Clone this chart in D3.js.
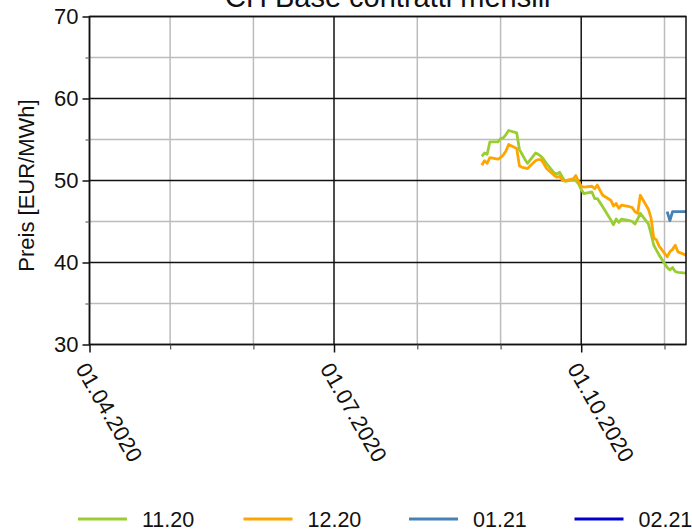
<!DOCTYPE html>
<html>
<head>
<meta charset="utf-8">
<script src="https://cdn.jsdelivr.net/npm/d3@7"></script>
<style>
  body { margin: 0; background: #fff; }
  svg { font-family: "Liberation Sans", Arial, sans-serif; }
</style>
</head>
<body>
<svg id="chart" width="692" height="530"></svg>
<script>
// trading days with quotes
const tradeDays = [
  "2020-08-25", "2020-08-26", "2020-08-27", "2020-08-28",
  "2020-08-31", "2020-09-01", "2020-09-02", "2020-09-03", "2020-09-04",
  "2020-09-07", "2020-09-08", "2020-09-09", "2020-09-10", "2020-09-11",
  "2020-09-14", "2020-09-15", "2020-09-16", "2020-09-17", "2020-09-18",
  "2020-09-21", "2020-09-22", "2020-09-23", "2020-09-24", "2020-09-25",
  "2020-09-28", "2020-09-29", "2020-09-30", "2020-10-01", "2020-10-02",
  "2020-10-05", "2020-10-06", "2020-10-07", "2020-10-08", "2020-10-09",
  "2020-10-12", "2020-10-13", "2020-10-14", "2020-10-15", "2020-10-16",
  "2020-10-19", "2020-10-20", "2020-10-21", "2020-10-22", "2020-10-23",
  "2020-10-26", "2020-10-27", "2020-10-28", "2020-10-29", "2020-10-30",
  "2020-11-02", "2020-11-03", "2020-11-04", "2020-11-05", "2020-11-06",
  "2020-11-09"
];

const nov20 = [
  52.95, 53.35, 53.2, 54.7,
  54.7, 55.1, 55.2, 55.6, 56.1,
  55.8, 53.8, 53.2, 52.6, 52.1,
  53.35, 53.2, 52.95, 52.6, 52.1,
  50.9, 50.8, 51.0, 50.4, 49.9,
  50.1, 50.0, 49.6, 48.9, 48.4,
  48.6, 47.8, 47.8, 47.3, 46.8,
  45.2, 44.6, 45.3, 44.9, 45.3,
  45.1, 45.0, 44.7, 45.3, 46.0,
  44.7, 43.5, 42.1, 41.5, 40.9,
  39.4, 39.1, 39.4, 38.9, 38.8,
  38.7
];

const dec20 = [
  51.85, 52.4, 52.1, 52.8,
  52.6, 52.8, 53.1, 53.6, 54.4,
  53.9, 51.8, 51.6, 51.55, 51.45,
  52.4, 52.55, 52.55, 52.1, 51.5,
  50.6, 50.4, 50.5, 50.0, 50.0,
  50.2, 50.6, 49.9, 49.3, 49.2,
  49.3, 49.0, 49.45, 48.8, 48.2,
  47.6, 46.9, 47.2, 46.6, 47.0,
  46.8, 46.7, 46.2, 46.0, 48.2,
  46.5, 45.4, 43.0, 42.75, 42.0,
  40.7, 41.3, 41.6, 42.1, 41.3,
  40.9
];

const jan21Days = ["2020-11-02", "2020-11-03", "2020-11-04", "2020-11-05", "2020-11-06", "2020-11-09"];
const jan21 = [46.2, 45.1, 46.2, 46.2, 46.2, 46.2];

const feb21Days = [];
const feb21 = [];

const seriesNames = ["11.20", "12.20", "01.21", "02.21"];
const seriesColors = ["#9acd32", "#ffa500", "#4682b4", "#0000cd"];

const yMajor = [30, 40, 50, 60, 70];
const yMinor = [35, 45, 55, 65];
const xMajor = ["2020-04-01", "2020-07-01", "2020-10-01"];
const xMinor = ["2020-05-01", "2020-06-01", "2020-08-01", "2020-09-01", "2020-11-01"];

const parse = d3.timeParse("%Y-%m-%d");
const fmt = d3.timeFormat("%d.%m.%Y");

const margin = { top: 16.5, left: 89.5 };
const width = 596.5, height = 328;

const svg = d3.select("#chart");
const g = svg.append("g").attr("transform", `translate(${margin.left},${margin.top})`);

const x = d3.scaleTime().domain([parse("2020-04-01"), parse("2020-11-09")]).range([0, width]);
const y = d3.scaleLinear().domain([30, 70]).range([height, 0]);

// grid lines
g.append("g").selectAll("line").data(yMinor).join("line")
  .attr("x1", 0).attr("x2", width)
  .attr("y1", d => y(d)).attr("y2", d => y(d))
  .attr("stroke", "#bcbcbc").attr("stroke-width", 1.5);
g.append("g").selectAll("line").data(xMinor.map(parse)).join("line")
  .attr("x1", d => x(d)).attr("x2", d => x(d))
  .attr("y1", 0).attr("y2", height)
  .attr("stroke", "#bcbcbc").attr("stroke-width", 1.5);
g.append("g").selectAll("line").data(yMajor).join("line")
  .attr("x1", 0).attr("x2", width)
  .attr("y1", d => y(d)).attr("y2", d => y(d))
  .attr("stroke", "#111").attr("stroke-width", 1.5);
g.append("g").selectAll("line").data(xMajor.map(parse)).join("line")
  .attr("x1", d => x(d)).attr("x2", d => x(d))
  .attr("y1", 0).attr("y2", height)
  .attr("stroke", "#111").attr("stroke-width", 1.5);

// lines
const line = d3.line().x(d => x(d[0])).y(d => y(d[1]));
const series = [
  [tradeDays, nov20],
  [tradeDays, dec20],
  [jan21Days, jan21],
  [feb21Days, feb21]
];
series.forEach(([days, vals], i) => {
  if (!vals.length) return;
  g.append("path")
    .datum(days.map((d, k) => [parse(d), vals[k]]))
    .attr("fill", "none")
    .attr("stroke", seriesColors[i])
    .attr("stroke-width", 2.8)
    .attr("stroke-linejoin", "round")
    .attr("d", line);
});

// frame
g.append("rect").attr("width", width).attr("height", height)
  .attr("fill", "none").attr("stroke", "#111").attr("stroke-width", 1.5);

// axes
const yAxis = g.append("g")
  .call(d3.axisLeft(y).tickValues(yMajor).tickSize(7).tickPadding(4).tickFormat(d3.format("d")));
yAxis.select(".domain").remove();
yAxis.selectAll("line").attr("stroke", "#111").attr("stroke-width", 1.5);
yAxis.selectAll("text").attr("font-size", 22).attr("fill", "#111");
g.append("g").call(d3.axisLeft(y).tickValues(yMinor).tickSize(4).tickFormat(""))
  .call(a => a.select(".domain").remove())
  .selectAll("line").attr("stroke", "#666").attr("stroke-width", 1.2);

const xAxis = g.append("g").attr("transform", `translate(0,${height})`)
  .call(d3.axisBottom(x).tickValues(xMajor.map(parse)).tickSize(8).tickFormat(fmt));
xAxis.select(".domain").remove();
xAxis.selectAll("line").attr("stroke", "#111").attr("stroke-width", 1.5);
xAxis.selectAll("text")
  .attr("font-size", 22).attr("fill", "#111")
  .attr("text-anchor", "start")
  .attr("x", 0).attr("y", 0).attr("dy", null)
  .attr("transform", "translate(-15,24) rotate(60)");
g.append("g").attr("transform", `translate(0,${height})`)
  .call(d3.axisBottom(x).tickValues(xMinor.map(parse)).tickSize(5).tickFormat(""))
  .call(a => a.select(".domain").remove())
  .selectAll("line").attr("stroke", "#555").attr("stroke-width", 1.2);

// labels
svg.append("text")
  .attr("transform", `translate(34,${margin.top + height / 2 + 5}) rotate(-90)`)
  .attr("text-anchor", "middle")
  .attr("font-size", 22).attr("fill", "#111")
  .text("Preis [EUR/MWh]");

svg.append("text")
  .attr("x", margin.left + width / 2).attr("y", 7)
  .attr("text-anchor", "middle")
  .attr("font-size", 29).attr("fill", "#111")
  .text("CH Base contratti mensili");

// legend
const legend = svg.append("g").attr("transform", "translate(78,519)");
const items = legend.selectAll("g").data(seriesNames).join("g")
  .attr("transform", (d, i) => `translate(${i * 165.5},0)`);
items.append("line").attr("x1", 0).attr("x2", 49)
  .attr("stroke", (d, i) => seriesColors[i]).attr("stroke-width", 3);
items.append("text").attr("x", 64).attr("y", 8)
  .attr("font-size", 21.5).attr("fill", "#111")
  .text(d => d);
</script>
</body>
</html>
